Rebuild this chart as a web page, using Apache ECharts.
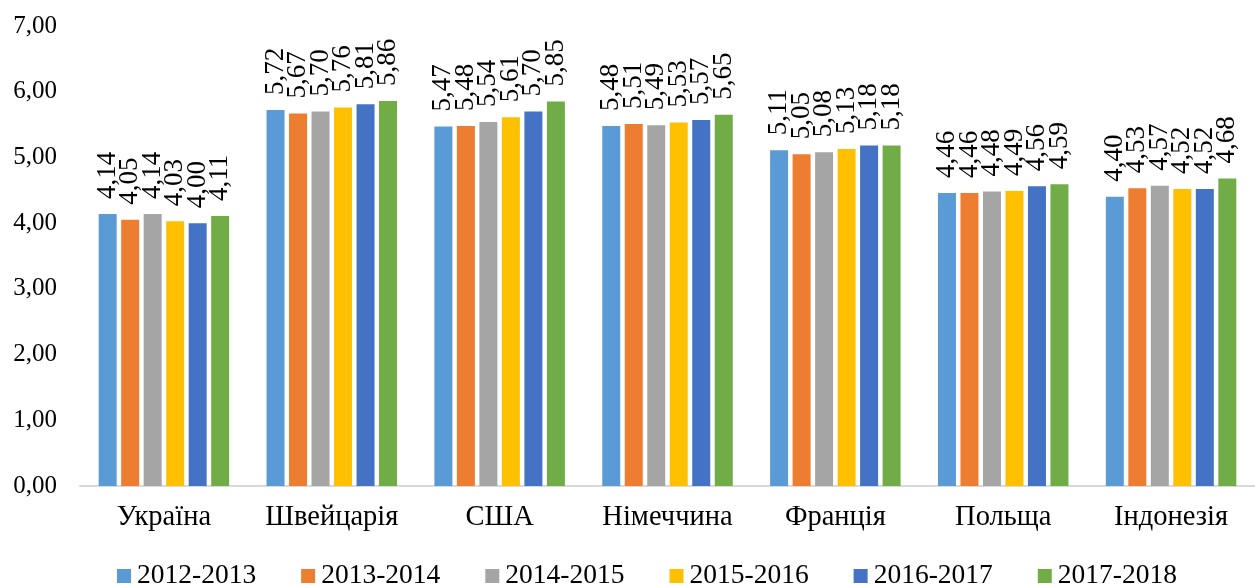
<!DOCTYPE html>
<html>
<head>
<meta charset="utf-8">
<script src="https://cdn.jsdelivr.net/npm/echarts@6/dist/echarts.min.js"></script>
<style>
html,body{margin:0;padding:0;background:#fff;}
#chart{width:1255px;height:585px;}
</style>
</head>
<body>
<div id="chart"></div>
<script>
var categories = ['Україна', 'Швейцарія', 'США', 'Німеччина', 'Франція', 'Польща', 'Індонезія'];
var seriesNames = ['2012-2013', '2013-2014', '2014-2015', '2015-2016', '2016-2017', '2017-2018'];
var s2012 = [4.14, 5.72, 5.47, 5.48, 5.11, 4.46, 4.40];
var s2013 = [4.05, 5.67, 5.48, 5.51, 5.05, 4.46, 4.53];
var s2014 = [4.14, 5.70, 5.54, 5.49, 5.08, 4.48, 4.57];
var s2015 = [4.03, 5.76, 5.61, 5.53, 5.13, 4.49, 4.52];
var s2016 = [4.00, 5.81, 5.70, 5.57, 5.18, 4.56, 4.52];
var s2017 = [4.11, 5.86, 5.85, 5.65, 5.18, 4.59, 4.68];
var yTicks = [0, 1, 2, 3, 4, 5, 6, 7];

var colors = ['#5B9BD5', '#ED7D31', '#A5A5A5', '#FFC000', '#4472C4', '#70AD47'];
var allData = [s2012, s2013, s2014, s2015, s2016, s2017];
var font = '"Liberation Serif", "Times New Roman", serif';
function fmt(v) { return Number(v).toFixed(2).replace('.', ','); }

var chart = echarts.init(document.getElementById('chart'));
chart.setOption({
  backgroundColor: '#ffffff',
  animation: false,
  color: colors,
  textStyle: { fontFamily: font },
  grid: { left: 80, top: 26, bottom: 99, width: 1188 },
  legend: {
    data: seriesNames,
    top: 557,
    left: 112,
    itemWidth: 14,
    itemHeight: 14,
    itemGap: 45,
    icon: 'rect',
    textStyle: { fontFamily: font, fontSize: 27.5, color: '#000', padding: [0, 0, 0, 1] }
  },
  xAxis: {
    type: 'category',
    data: categories,
    axisLine: { lineStyle: { color: '#d9d9d9', width: 2 } },
    axisTick: { show: false },
    axisLabel: { interval: 0, fontFamily: font, fontSize: 28.5, color: '#000', margin: 17 }
  },
  yAxis: {
    type: 'value',
    min: yTicks[0],
    max: yTicks[yTicks.length - 1],
    interval: 1,
    splitLine: { show: false },
    axisLine: { show: false },
    axisTick: { show: false },
    axisLabel: { fontFamily: font, fontSize: 25, color: '#000', margin: 23, formatter: fmt }
  },
  series: seriesNames.map(function (name, i) {
    return {
      name: name,
      type: 'bar',
      data: allData[i],
      barWidth: 18,
      barGap: '25%',
      itemStyle: { color: colors[i] },
      label: {
        show: true,
        position: 'top',
        rotate: 90,
        align: 'left',
        verticalAlign: 'middle',
        distance: 15,
        fontFamily: font,
        fontSize: 27,
        color: '#000',
        formatter: function (p) { return fmt(p.value); }
      }
    };
  })
});
</script>
</body>
</html>
